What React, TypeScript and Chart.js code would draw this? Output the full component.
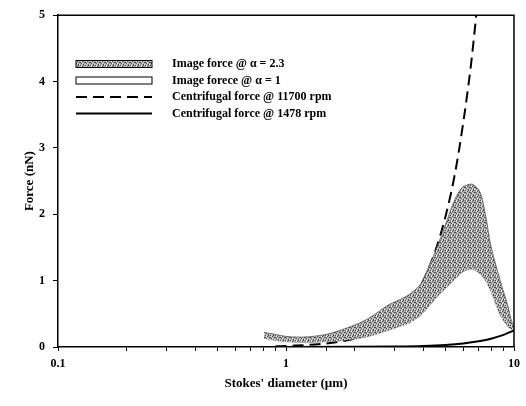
import React, { useEffect, useRef } from "react";
import { Chart, registerables } from "chart.js";

Chart.register(...registerables);

// ---- data ----
const bandX = [0.8, 0.9, 1.0, 1.2, 1.5, 1.9, 2.3, 2.8, 3.1, 3.5, 3.9, 4.2, 4.5, 5.0, 5.5, 5.9, 6.2, 6.6, 7.1, 7.5, 7.9, 8.7, 9.4, 9.7, 10];
const bandUpper = [0.22, 0.19, 0.16, 0.15, 0.19, 0.3, 0.43, 0.63, 0.7, 0.8, 0.95, 1.19, 1.42, 1.84, 2.22, 2.4, 2.44, 2.45, 2.33, 1.99, 1.54, 1.0, 0.62, 0.42, 0.28];
const bandLower = [0.13, 0.1, 0.08, 0.07, 0.08, 0.11, 0.16, 0.25, 0.3, 0.37, 0.48, 0.6, 0.72, 0.88, 1.02, 1.12, 1.16, 1.17, 1.1, 1.0, 0.85, 0.48, 0.31, 0.27, 0.25];

const fastX = [0.9, 1.0, 1.5, 2.0, 2.5, 3.0, 3.5, 4.0, 4.5, 5.0, 5.5, 6.0, 6.5, 6.9];
const fastY = [0.011, 0.016, 0.053, 0.126, 0.245, 0.42, 0.67, 1.0, 1.43, 1.96, 2.6, 3.4, 4.3, 5.15];

const slowX = [0.9, 1.0, 2.0, 3.0, 4.0, 5.0, 6.0, 7.0, 8.0, 9.0, 10.0];
const slowY = [0.0002, 0.00025, 0.002, 0.007, 0.016, 0.031, 0.054, 0.086, 0.128, 0.182, 0.25];

const labels = [
  "Image force @ \u03b1 = 2.3",
  "Image forece @ \u03b1 = 1",
  "Centrifugal force @ 11700 rpm",
  "Centrifugal force @ 1478 rpm",
];

const xMajorTicks = [0.1, 1, 10];
const yTicks = [0, 1, 2, 3, 4, 5];

const FONT = "'Liberation Serif', 'Times New Roman', serif";

function toPts(xs: number[], ys: number[]) {
  return xs.map((x, i) => ({ x, y: ys[i] }));
}

function makePattern(): CanvasPattern | string {
  const c = document.createElement("canvas");
  c.width = 5;
  c.height = 5;
  const g = c.getContext("2d");
  if (!g) return "#9a9a9a";
  g.fillStyle = "#b0b0b0";
  g.fillRect(0, 0, 5, 5);
  g.fillStyle = "#4a4a4a";
  const dark = [[0, 0], [2, 1], [4, 2], [1, 3], [3, 4], [3, 0], [0, 2]];
  dark.forEach(([x, y]) => g.fillRect(x, y, 1, 1));
  g.fillStyle = "#e8e8e8";
  const light = [[1, 1], [4, 4], [2, 3], [1, 0]];
  light.forEach(([x, y]) => g.fillRect(x, y, 1, 1));
  const p = g.createPattern(c, "repeat");
  return p || "#9a9a9a";
}

export default function App() {
  const ref = useRef<HTMLCanvasElement | null>(null);

  useEffect(() => {
    document.body.style.margin = "0";
    const canvas = ref.current;
    if (!canvas) return;
    const pattern = makePattern();

    const frameAndLegend = {
      id: "frameAndLegend",
      afterDraw(chart: any) {
        const { ctx, chartArea } = chart;
        ctx.save();
        ctx.strokeStyle = "#000";
        ctx.lineWidth = 1.5;
        ctx.beginPath();
        ctx.moveTo(chartArea.left, chartArea.top);
        ctx.lineTo(chartArea.right, chartArea.top);
        ctx.lineTo(chartArea.right, chartArea.bottom);
        ctx.stroke();

        // legend
        const x0 = 76;
        const x1 = 152;
        const tx = 172;
        const rows = [64, 80.5, 97, 113.5];
        ctx.font = "bold 12px " + FONT;
        ctx.textBaseline = "middle";
        ctx.textAlign = "left";
        rows.forEach((ry, i) => {
          if (i === 0) {
            ctx.fillStyle = pattern as any;
            ctx.fillRect(x0, ry - 3.5, x1 - x0, 7);
            ctx.lineWidth = 1;
            ctx.strokeStyle = "#000";
            ctx.strokeRect(x0, ry - 3.5, x1 - x0, 7);
          } else if (i === 1) {
            ctx.fillStyle = "#fff";
            ctx.fillRect(x0, ry - 3.5, x1 - x0, 7);
            ctx.lineWidth = 1;
            ctx.strokeStyle = "#000";
            ctx.strokeRect(x0, ry - 3.5, x1 - x0, 7);
          } else {
            ctx.lineWidth = 2;
            ctx.strokeStyle = "#000";
            ctx.setLineDash(i === 2 ? [11, 6] : []);
            ctx.beginPath();
            ctx.moveTo(x0, ry);
            ctx.lineTo(x1, ry);
            ctx.stroke();
            ctx.setLineDash([]);
          }
          ctx.fillStyle = "#000";
          ctx.fillText(labels[i], tx, ry);
        });
        ctx.restore();
      },
    };

    const chart = new Chart(canvas, {
      type: "line",
      data: {
        datasets: [
          {
            label: labels[0],
            data: toPts(bandX, bandUpper),
            borderColor: "#555",
            borderWidth: 0.8,
            backgroundColor: pattern as any,
            fill: "+1",
            pointRadius: 0,
            tension: 0.3,
          },
          {
            label: labels[1],
            data: toPts(bandX, bandLower),
            borderColor: "#666",
            borderWidth: 0.6,
            backgroundColor: "#fff",
            fill: false,
            pointRadius: 0,
            tension: 0.3,
          },
          {
            label: labels[2],
            data: toPts(fastX, fastY),
            borderColor: "#000",
            borderWidth: 2,
            borderDash: [11, 6],
            fill: false,
            pointRadius: 0,
            cubicInterpolationMode: "monotone",
          },
          {
            label: labels[3],
            data: toPts(slowX, slowY),
            borderColor: "#000",
            borderWidth: 2,
            fill: false,
            pointRadius: 0,
            cubicInterpolationMode: "monotone",
          },
        ],
      },
      options: {
        responsive: false,
        animation: false,
        events: [],
        layout: { padding: { left: 0, right: 10, top: 10, bottom: 0 } },
        plugins: {
          legend: { display: false },
          tooltip: { enabled: false },
        },
        scales: {
          x: {
            type: "logarithmic",
            min: 0.1,
            max: 10,
            afterFit: (s: any) => {
              s.height = 59;
            },
            border: { display: true, color: "#000", width: 1.5 },
            grid: {
              display: true,
              drawOnChartArea: false,
              drawTicks: true,
              tickLength: 4,
              color: "#000",
            },
            ticks: {
              autoSkip: false,
              maxRotation: 0,
              padding: 6,
              color: "#000",
              font: { family: FONT, size: 12, weight: "bold" },
              callback: (v: any) => {
                const n = Number(v);
                const hit = xMajorTicks.find((t) => Math.abs(t - n) < 1e-9 * Math.max(1, t));
                return hit !== undefined ? String(hit) : "";
              },
            },
            title: {
              display: true,
              text: "Stokes' diameter (\u00b5m)",
              color: "#000",
              font: { family: FONT, size: 13, weight: "bold" },
              padding: { top: 0, bottom: 15 },
            },
          },
          y: {
            min: 0,
            max: 5,
            afterFit: (s: any) => {
              s.width = 58;
            },
            afterBuildTicks: (s: any) => {
              s.ticks = yTicks.map((v) => ({ value: v }));
            },
            border: { display: true, color: "#000", width: 1.5 },
            grid: {
              display: true,
              drawOnChartArea: false,
              drawTicks: true,
              tickLength: 5,
              color: "#000",
            },
            ticks: {
              padding: 8,
              color: "#000",
              font: { family: FONT, size: 12, weight: "bold" },
            },
            title: {
              display: true,
              text: "Force (nN)",
              color: "#000",
              font: { family: FONT, size: 13, weight: "bold" },
              padding: { top: 22, bottom: 0 },
            },
          },
        },
      } as any,
      plugins: [frameAndLegend],
    });

    return () => {
      chart.destroy();
    };
  }, []);

  return (
    <div style={{ width: 526, height: 406, background: "#fff" }}>
      <canvas ref={ref} width={526} height={406} />
    </div>
  );
}
